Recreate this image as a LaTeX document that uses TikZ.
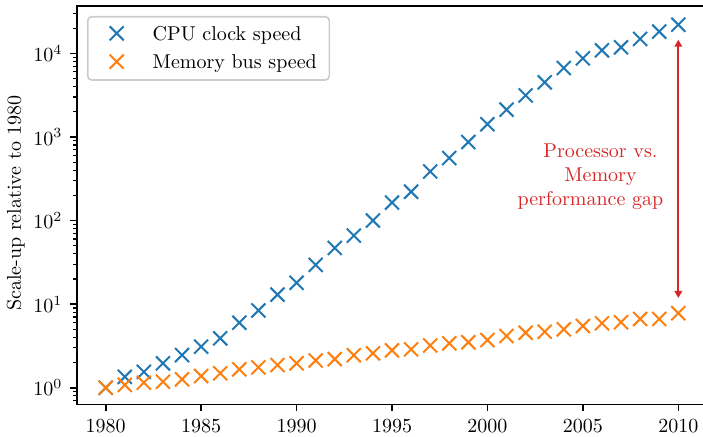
\documentclass[tikz,border=0pt]{standalone}
\usepackage{amsmath}
\usepackage{tikz}
\usetikzlibrary{arrows.meta,positioning,shapes.misc}
\definecolor{cpublue}{HTML}{1F77B4}
\definecolor{memorange}{HTML}{FF7F0E}
\definecolor{gapred}{HTML}{D62728}
% scale-up per year: years after 1980 / mantissa / power of ten
\newcommand{\cpudata}{0/1.0/0,1/1.35/0,2/1.55/0,3/1.96/0,4/2.46/0,5/3.1/0,6/3.9/0,7/6.0/0,8/8.4/0,9/1.3/1,10/1.8/1,11/2.95/1,12/4.7/1,13/6.6/1,14/1.0/2,15/1.64/2,16/2.21/2,17/3.86/2,18/5.59/2,19/8.69/2,20/1.42/3,21/2.12/3,22/3.14/3,23/4.5/3,24/6.68/3,25/8.71/3,26/1.086/4,27/1.18/4,28/1.487/4,29/1.82/4,30/2.2/4}
\newcommand{\memdata}{0/1.0,1/1.08,2/1.15,3/1.18,4/1.26,5/1.38,6/1.49,7/1.66,8/1.75,9/1.87,10/1.96,11/2.12,12/2.2,13/2.45,14/2.58,15/2.8,16/2.88,17/3.2,18/3.4,19/3.5,20/3.72,21/4.16,22/4.55,23/4.68,24/5.0,25/5.48,26/5.9,27/6.07,28/6.65,29/6.65,30/7.8}
\newcommand{\xlo}{-1.5}
\newcommand{\xhi}{31.5}
\newcommand{\ylo}{-0.199}
\newcommand{\yhi}{4.566}

\begin{document}
\begin{tikzpicture}[x=9.543pt,y=41.8pt,
  mk/.style={cross out,draw,line width=1pt,minimum size=6pt,inner sep=0pt},
  tk/.style={line width=0.8pt},
  mtk/.style={line width=0.6pt},
  lab/.style={inner sep=0pt},
  legtxt/.style={inner sep=0pt,text depth=0pt},
  leg/.style={draw=black!20,fill=white,fill opacity=0.8,rounded corners=2pt,line width=0.8pt},
  gap/.style={{Triangle[length=3.5pt,width=3.8pt]}-{Triangle[length=3.5pt,width=3.8pt]},line width=1pt,gapred,shorten <=7.6pt,shorten >=7.5pt}]
\useasboundingbox (-5.538,-0.578) rectangle (31.294,4.638);
\clip (-5.538,-0.578) rectangle (31.294,4.638);
% frame and ticks
\draw[tk] (\xlo,\ylo) rectangle (\xhi,\yhi);
\foreach \yr in {0,5,...,30}{
  \pgfmathtruncatemacro\lbl{1980+\yr}
  \draw[tk] (\yr,\ylo) -- ++(0,-3.5pt) node[lab,below=3.5pt] {\lbl};
}
\foreach \k in {0,...,4}
  \draw[tk] (\xlo,\k) -- ++(-3.5pt,0) node[lab,left=3.5pt] {$10^{\k}$};
\foreach \k in {0,...,3}
  \foreach \m in {2,...,9}
    \draw[mtk] (\xlo,{\k+log10(\m)}) -- ++(-2pt,0);
\foreach \m in {7,8,9}
  \draw[mtk] (\xlo,{log10(\m)-1}) -- ++(-2pt,0);
\foreach \m in {2,3}
  \draw[mtk] (\xlo,{4+log10(\m)}) -- ++(-2pt,0);
\node[lab,rotate=90] (ylab) at (-4.710,2.209) {Scale-up relative to 1980};
% data
\foreach \yr/\man/\ex in \cpudata
  \node[mk,draw=cpublue] (cpu\yr) at (\yr,{log10(\man)+\ex}) {};
\foreach \yr/\val in \memdata
  \node[mk,draw=memorange] (mem\yr) at (\yr,{log10(\val)}) {};
% legend
\draw[leg] (-0.943,3.681) rectangle (11.715,4.438);
\node[mk,draw=cpublue] (legcpu) at (0.576,4.239) {};
\node[legtxt,right=14.3pt of legcpu] (legcputxt) {CPU clock speed};
\node[mk,draw=memorange] (legmem) at (0.576,3.900) {};
\node[legtxt,right=14.3pt of legmem] (legmemtxt) {Memory bus speed};
% gap annotation
\draw[gap] (mem30.center) -- (cpu30.center);
\node[lab,gapred,align=center] (gaplab) at (25.92,2.520)
  {Processor vs.\\Memory\\performance gap\makebox[10pt]{}};
\end{tikzpicture}
\end{document}
